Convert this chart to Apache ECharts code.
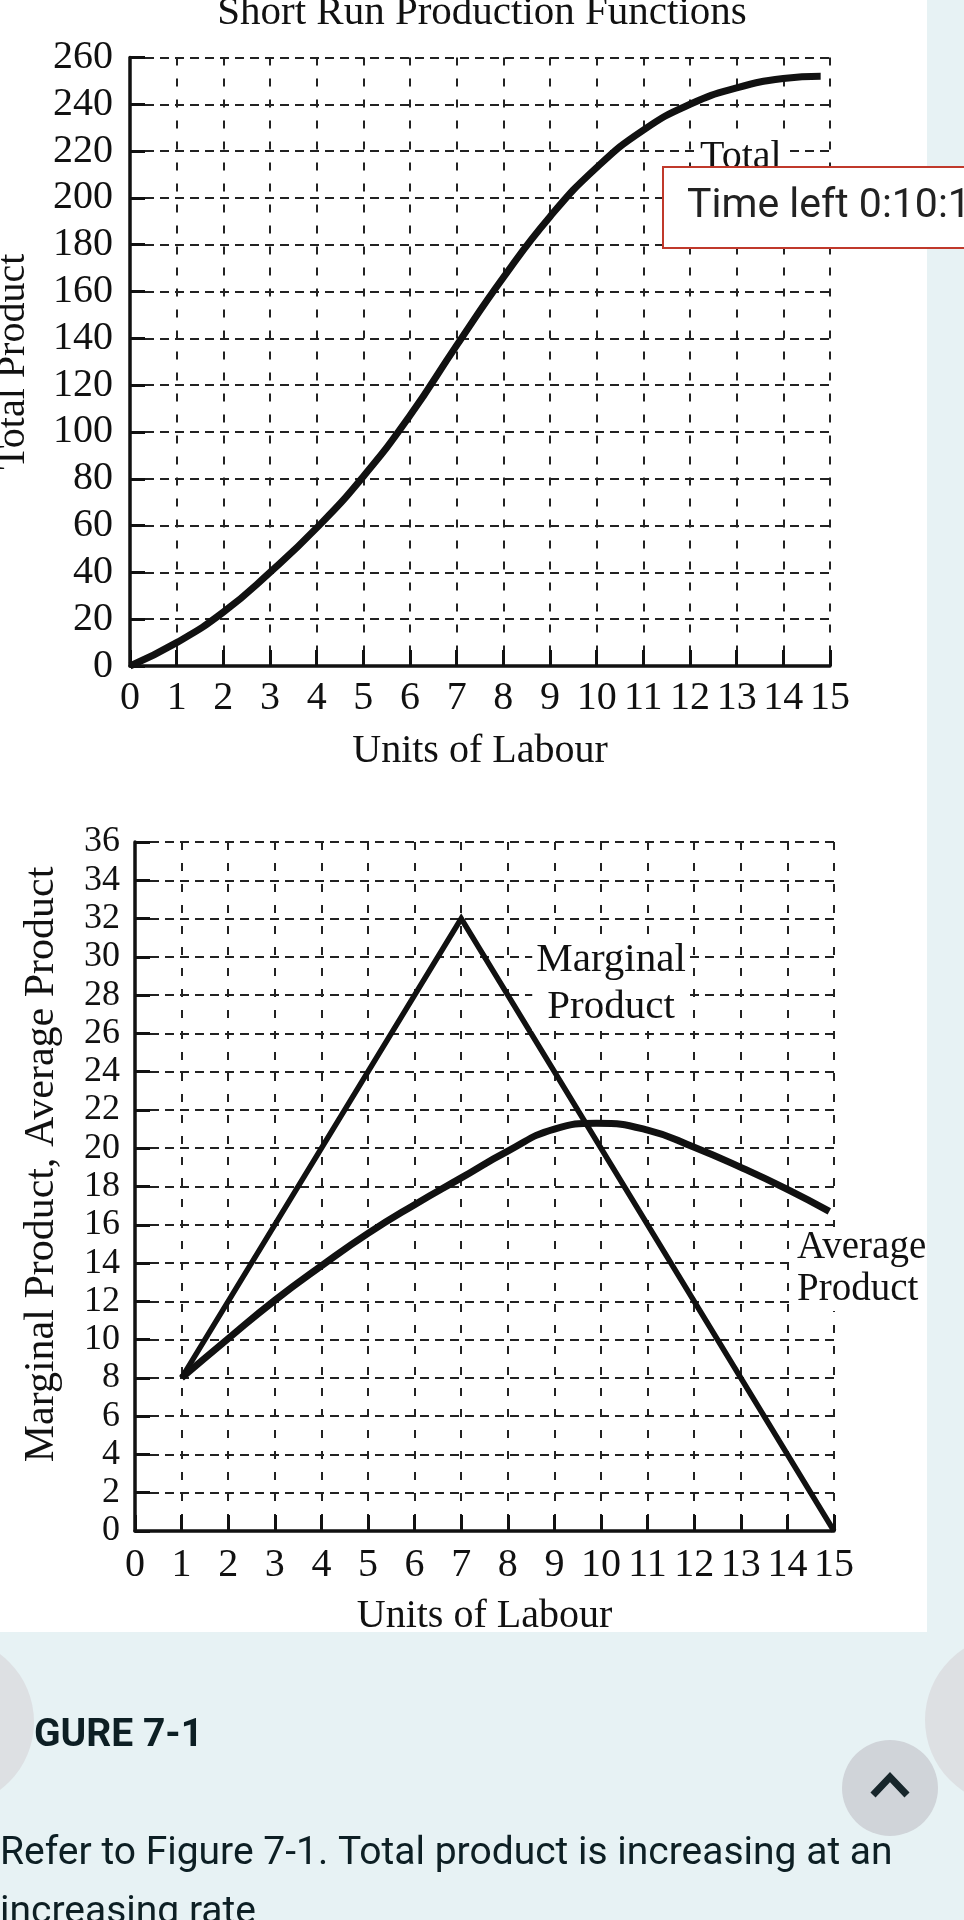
<!DOCTYPE html>
<html>
<head>
<meta charset="utf-8">
<script src="https://cdn.jsdelivr.net/npm/echarts@6/dist/echarts.min.js"></script>
<style>
  html, body { margin: 0; padding: 0; background: #ffffff; }
  #chart { width: 964px; height: 1920px; }
</style>
</head>
<body>
<div id="chart"></div>
<script>
// total product curve (top panel)
const tpLabour = [0, 1, 2, 3, 4, 5, 6, 7, 8, 9, 10, 11, 12, 13, 14, 14.8];
const totalProduct = [0, 10, 23, 40, 59, 81, 107, 137, 166, 192, 213, 229, 240, 247, 251, 252];

// marginal product (straight segments, bottom panel)
const mpLabour = [1, 7, 15];
const marginalProduct = [8, 32, 0];

// average product (bottom panel), peak read near 9.9
const apLabour = [1, 2, 3, 4, 5, 6, 7, 8, 9, 9.9, 11, 12, 13, 14, 14.9];
const averageProduct = [8, 10.05, 12.05, 13.85, 15.55, 17.05, 18.45, 19.85, 21.0, 21.3, 20.95, 20.05, 19.0, 17.85, 16.7];

// axis ranges
const labourRange = [0, 15, 1];
const tpRange = [0, 260, 20];
const mpRange = [0, 36, 2];

const serif = '"Liberation Serif", "Times New Roman", serif';
const ink = '#111111';
const gridInk = '#222222';
const pageBg = '#e7f2f4';

const pairs = (xs, ys) => xs.map((x, i) => [x, ys[i]]);

function xAxisCfg(gridIndex, margin) {
  return {
    type: 'value', gridIndex: gridIndex,
    min: labourRange[0], max: labourRange[1], interval: labourRange[2],
    name: 'Units of Labour', nameLocation: 'middle', nameGap: 65, nameMoveOverlap: false,
    nameTextStyle: { fontFamily: serif, fontSize: 40, color: ink },
    axisLine: { show: true, onZero: false, lineStyle: { color: ink, width: 3.5 } },
    axisTick: { show: true, inside: true, length: 16, lineStyle: { color: ink, width: 3 } },
    axisLabel: { fontFamily: serif, fontSize: 40, color: ink, margin: margin,
                 showMinLabel: true, showMaxLabel: true, hideOverlap: false },
    splitLine: { show: true, lineStyle: { color: gridInk, width: 2, type: [8, 13] } }
  };
}

function yAxisCfg(gridIndex, range, name, nameSize, nameGap, namePad, labelSize, margin) {
  return {
    type: 'value', gridIndex: gridIndex,
    min: range[0], max: range[1], interval: range[2],
    name: name, nameLocation: 'middle', nameRotate: 90, nameGap: nameGap, nameMoveOverlap: false,
    nameTextStyle: { fontFamily: serif, fontSize: nameSize, color: ink, padding: namePad },
    axisLine: { show: true, onZero: false, lineStyle: { color: ink, width: 3.5 } },
    axisTick: { show: true, inside: true, length: 15, lineStyle: { color: ink, width: 3 } },
    axisLabel: { fontFamily: serif, fontSize: labelSize, lineHeight: 24, color: ink, margin: margin,
                 showMinLabel: true, showMaxLabel: true, hideOverlap: false },
    splitLine: { show: true, lineStyle: { color: gridInk, width: 2, type: [9, 6] } }
  };
}

const chart = echarts.init(document.getElementById('chart'), null, { renderer: 'canvas' });

chart.setOption({
  animation: false,
  backgroundColor: '#ffffff',
  title: {
    text: 'Short Run Production Functions',
    left: 'center', top: -7, padding: 0,
    textStyle: { fontFamily: serif, fontSize: 41, fontWeight: 'normal', color: ink }
  },
  grid: [
    { left: 130, right: 134, top: 57.5, bottom: 1254, containLabel: false, outerBoundsMode: 'none' },
    { left: 135, right: 130, top: 842, bottom: 389, containLabel: false, outerBoundsMode: 'none' }
  ],
  xAxis: [xAxisCfg(0, 12), xAxisCfg(1, 14)],
  yAxis: [
    yAxisCfg(0, tpRange, 'Total Product', 40, 97, [0, 0, 0, 0], 40, 17),
    yAxisCfg(1, mpRange, 'Marginal Product, Average Product', 42, 72, [0, 0, 0, 44], 36, 15)
  ],
  series: [
    {
      name: 'Total Product', type: 'line', xAxisIndex: 0, yAxisIndex: 0,
      data: pairs(tpLabour, totalProduct), smooth: 0.5, symbol: 'none',
      lineStyle: { color: ink, width: 7 }, z: 5, silent: true
    },
    {
      name: 'Marginal Product', type: 'line', xAxisIndex: 1, yAxisIndex: 1,
      data: pairs(mpLabour, marginalProduct), symbol: 'none',
      lineStyle: { color: ink, width: 5.5, join: 'miter' }, z: 5, silent: true
    },
    {
      name: 'Average Product', type: 'line', xAxisIndex: 1, yAxisIndex: 1,
      data: pairs(apLabour, averageProduct), smooth: 0.5, symbol: 'none',
      lineStyle: { color: ink, width: 7 }, z: 5, silent: true
    }
  ],
  graphic: [
    // curve labels
    { type: 'text', x: 696, y: 157, z: 50,
      style: { text: 'Total', font: '40px ' + serif, fill: ink, textAlign: 'left', textVerticalAlign: 'middle',
               backgroundColor: '#ffffff', padding: [0, 4] } },
    { type: 'text', x: 611, y: 984, z: 50,
      style: { text: 'Marginal\nProduct', font: '41px ' + serif, fill: ink, textAlign: 'center', textVerticalAlign: 'middle',
               lineHeight: 46.7, backgroundColor: '#ffffff', padding: [0, 4] } },
    { type: 'text', x: 792, y: 1269, z: 50,
      style: { text: 'Average\nProduct', font: '39px ' + serif, fill: ink, textAlign: 'left', textVerticalAlign: 'middle',
               lineHeight: 42, backgroundColor: '#ffffff', padding: [0, 5] } },

    // page around the picture
    { type: 'rect', z: 100, shape: { x: 927, y: 0, width: 37, height: 1632 }, style: { fill: pageBg } },
    { type: 'rect', z: 100, shape: { x: 0, y: 1632, width: 964, height: 288 }, style: { fill: pageBg } },
    { type: 'circle', z: 101, shape: { cx: -51, cy: 1722, r: 85 }, style: { fill: '#dde0e3' } },
    { type: 'circle', z: 101, shape: { cx: 1010, cy: 1720, r: 85 }, style: { fill: '#dde0e3' } },
    { type: 'circle', z: 101, shape: { cx: 890, cy: 1788, r: 48 }, style: { fill: '#d0d4d9' } },
    { type: 'polyline', z: 102, shape: { points: [[873, 1795], [890, 1777], [907, 1795]] },
      style: { stroke: '#17262b', lineWidth: 7, fill: null, lineJoin: 'miter' } },
    { type: 'text', x: 34, y: 1736.4, z: 102,
      style: { text: 'GURE 7-1', font: 'bold 39px Roboto', fill: '#0d1f24', textAlign: 'left', textVerticalAlign: 'middle' } },
    { type: 'text', x: 0, y: 1854, z: 102,
      style: { text: 'Refer to Figure 7-1. Total product is increasing at an', font: '39px Roboto', fill: '#0d1f24',
               textAlign: 'left', textVerticalAlign: 'middle' } },
    { type: 'text', x: 0, y: 1913, z: 102,
      style: { text: 'increasing rate', font: '39px Roboto', fill: '#0d1f24', textAlign: 'left', textVerticalAlign: 'middle' } },

    // timer overlay
    { type: 'rect', z: 110, shape: { x: 663, y: 167, width: 320, height: 81 },
      style: { fill: '#ffffff', stroke: '#c0392b', lineWidth: 2 } },
    { type: 'text', x: 687, y: 206.4, z: 111,
      style: { text: 'Time left 0:10:10', font: '41px Roboto', fill: '#222222', textAlign: 'left', textVerticalAlign: 'middle' } }
  ]
});
</script>
</body>
</html>
